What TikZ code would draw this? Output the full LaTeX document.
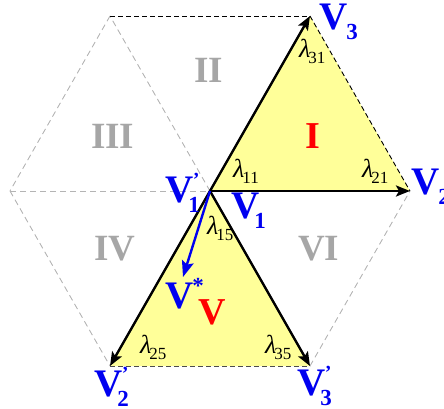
\documentclass[tikz,border=0pt]{standalone}
\usepackage{fontspec}
\setmainfont{Liberation Serif}
\usetikzlibrary{arrows.meta}
\definecolor{paleY}{HTML}{FFFF99}
\definecolor{greyDash}{HTML}{B4B4B4}
\definecolor{greyNum}{HTML}{A6A6A6}
\definecolor{vblue}{HTML}{0000F0}
\newcommand{\VS}[1]{V\kern-1pt\raisebox{-10pt}{\fontsize{23}{23}\selectfont #1}}
\newcommand{\VC}[1]{V\kern-5pt\raisebox{-10pt}{\fontsize{23}{23}\selectfont #1}}
\newcommand{\VP}[1]{V\kern-5pt\raisebox{-10pt}{\fontsize{23}{23}\selectfont #1}\kern-7pt\raisebox{16pt}{\fontsize{20}{20}\selectfont '}}
\newcommand{\LB}[1]{{\fontsize{26}{26}\selectfont\itshape λ}\kern-2pt\raisebox{-6pt}{\fontsize{17}{17}\selectfont #1}}
\tikzset{
  x=1pt,y=-1pt,
  vtx/.style={inner sep=0pt,minimum size=0pt},
  txt/.style={anchor=base west,inner sep=0pt},
  vlabel/.style={txt,text=vblue,font=\fontsize{39}{39}\selectfont\bfseries},
  lam/.style={txt,text=black},
  rnum/.style={txt,text=greyNum,font=\fontsize{37}{37}\selectfont\bfseries},
  rred/.style={txt,text=red,font=\fontsize{38}{38}\selectfont\bfseries},
  gedge/.style={draw=greyDash,line width=0.9pt,dash pattern=on 6pt off 4pt},
  kedge/.style={draw=black,line width=0.9pt,dash pattern=on 5pt off 3pt},
  darrow/.style={draw=black,line width=2.4pt,-{Stealth[length=14pt,width=11pt,inset=3pt]}},
  varrow/.style={draw=vblue,line width=2.4pt,-{Stealth[length=16pt,width=12pt,inset=3pt]}}
}
\begin{document}
\begin{tikzpicture}
\useasboundingbox (0,0) rectangle (444,409);
\node[vtx] (O) at (210,191) {};
\node[vtx] (A) at (410,191) {};
\node[vtx] (B) at (310,16) {};
\node[vtx] (C) at (110,16) {};
\node[vtx] (D) at (10,191) {};
\node[vtx] (E) at (110,366) {};
\node[vtx] (F) at (310,366) {};
\node[vtx] (S) at (183,277) {};
\fill[paleY] (O.center) -- (A.center) -- (B.center) -- cycle;
\fill[paleY] (O.center) -- (E.center) -- (F.center) -- cycle;
\draw[gedge] (O.center) -- (C.center);
\draw[gedge] (C.center) -- (D.center);
\draw[gedge] (D.center) -- (O.center);
\draw[gedge] (D.center) -- (E.center);
\draw[gedge] (F.center) -- (A.center);
\draw[kedge] (C.center) -- (B.center);
\draw[kedge] (B.center) -- (A.center);
\draw[kedge,draw=black!70] (E.center) -- (F.center);
\draw[darrow] (O.center) -- (A.center);
\draw[darrow] (O.center) -- (B.center);
\draw[darrow] (O.center) -- (E.center);
\draw[darrow] (O.center) -- (F.center);
\draw[varrow] (O.center) -- (S.center);
\node[vlabel] (v3) at (319,30) {\VS{3}};
\node[vlabel] (v2) at (411,194) {\VS{2}};
\node[vlabel] (v1) at (231,218) {\VC{1}};
\node[vlabel] (v1p) at (165,202) {\VP{1}};
\node[vlabel] (v2p) at (94,396) {\VP{2}};
\node[vlabel] (v3p) at (297,395) {\VP{3}};
\node[vlabel] (vs) at (165,308) {V\kern-1pt\raisebox{15pt}{\fontsize{23}{23}\selectfont *}};
\node[rred] (nV) at (198,324) {V};
\node[rred] (nI) at (305,148) {I};
\node[rnum] (nII) at (194,83) {II};
\node[rnum] (nIII) at (91,148) {III};
\node[rnum] (nIV) at (94,260) {IV};
\node[rnum] (nVI) at (298,260) {VI};
\node[lam] (l11) at (233,177) {\LB{11}};
\node[lam] (l21) at (362,177) {\LB{21}};
\node[lam] (l31) at (299,58) {\LB{31}};
\node[lam] (l15) at (207,234) {\LB{15}};
\node[lam] (l25) at (140,353) {\LB{25}};
\node[lam] (l35) at (265,353) {\LB{35}};
\end{tikzpicture}
\end{document}
